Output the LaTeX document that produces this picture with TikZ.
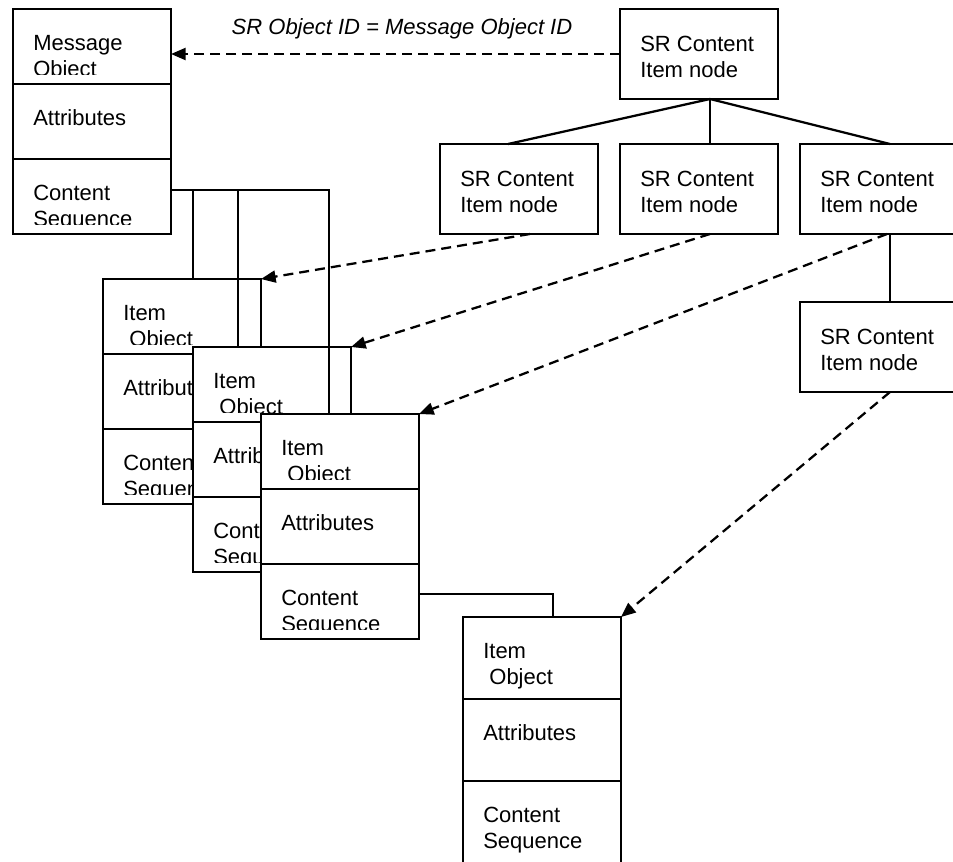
\documentclass[tikz,border=0pt]{standalone}
\usepackage{fontspec}
\setmainfont{Liberation Sans}
\usetikzlibrary{calc,arrows.meta}
\tikzset{
  boxline/.style={line width=1.6pt},
  objbox/.style={draw, line width=1.6pt, fill=white, inner sep=0pt, outer sep=0pt, anchor=north west, minimum width=118.5pt},
  srbox/.style={draw, line width=1.6pt, fill=white, inner sep=0pt, outer sep=0pt, anchor=north west, minimum width=118.5pt, minimum height=67.5pt},
  txt/.style={anchor=base west, inner sep=0pt, font=\fontsize{16.5pt}{19.5pt}\selectfont},
  conn/.style={line width=1.7pt},
  refarrow/.style={line width=1.7pt, dash pattern=on 7.5pt off 4.5pt, -{Triangle[length=11pt,width=9pt]}},
}
\newcommand\objbox[6]{%
  \node[objbox, minimum height=3*#3*0.75pt] (#1) at (#2) {};
  \draw[boxline] ($(#1.north west)+(0,#3)$) -- ($(#1.north east)+(0,#3)$);
  \draw[boxline] ($(#1.north west)+(0,2*#3)$) -- ($(#1.north east)+(0,2*#3)$);
  \begin{scope}
    \clip (#1.north west) rectangle ($(#1.north east)+(0,#3-#4)$);
    \node[txt] (#1-t1) at ($(#1.north west)+(20,41)$) {#5};
    \node[txt] (#1-t2) at ($(#1.north west)+(20,67)$) {#6};
  \end{scope}
  \begin{scope}
    \clip ($(#1.north west)+(0,#3)$) rectangle ($(#1.north east)+(0,2*#3-#4)$);
    \node[txt] (#1-t3) at ($(#1.north west)+(20,#3+41)$) {Attributes};
  \end{scope}
  \begin{scope}
    \clip ($(#1.north west)+(0,2*#3)$) rectangle ($(#1.north east)+(0,3*#3-#4)$);
    \node[txt] (#1-t4) at ($(#1.north west)+(20,2*#3+41)$) {Content};
    \node[txt] (#1-t5) at ($(#1.north west)+(20,2*#3+67)$) {Sequence};
  \end{scope}
}
\newcommand\srnode[2]{%
  \node[srbox] (#1) at (#2) {};
  \node[txt] (#1-t1) at ($(#1.north west)+(20,42)$) {SR Content};
  \node[txt] (#1-t2) at ($(#1.north west)+(20,68)$) {Item node};
}
\begin{document}
\begin{tikzpicture}[x=0.75pt,y=-0.75pt]
\useasboundingbox (0,0) rectangle (953,861);
\clip (0,0) rectangle (953,861);

% message object
\objbox{msg}{13,9}{75}{10}{Message}{Object}

% SR content tree
\srnode{sr0}{620,9}
\srnode{sr1}{440,144}
\srnode{sr2}{620,144}
\srnode{sr3}{800,144}
\srnode{sr4}{800,302}

% item objects
\objbox{it1}{103,279}{75}{10}{Item}{\hspace*{0.278em}Object}
\objbox{it2}{193,347}{75}{10}{Item}{\hspace*{0.278em}Object}
\objbox{it3}{261,414}{75}{10}{Item}{\hspace*{0.278em}Object}
\objbox{it4}{463,617}{82}{3}{Item}{\hspace*{0.278em}Object}

% content sequence connectors
\coordinate (mcs) at ($(msg.north east)+(0,181)$);
\coordinate (d1) at ($(it1.north west)+(90,0)$);
\coordinate (d2) at ($(it2.north west)+(45,0)$);
\coordinate (d3) at ($(it3.north west)+(68,0)$);
\draw[conn] (mcs) -| (d3);
\draw[conn] (mcs -| d1) -- (d1);
\draw[conn] (mcs -| d2) -- (d2);
\coordinate (ics) at ($(it3.north east)+(0,180)$);
\coordinate (d4) at ($(it4.north west)+(90,0)$);
\draw[conn] (ics) -| (d4);

% tree connectors
\coordinate (s0b) at ($(sr0.south west)+(90,0)$);
\draw[conn] (s0b) -- ($(sr1.north west)+(68,0)$);
\draw[conn] (s0b) -- ($(sr2.north west)+(90,0)$);
\draw[conn] (s0b) -- ($(sr3.north west)+(90,0)$);
\draw[conn] ($(sr3.south west)+(90,0)$) -- ($(sr4.north west)+(90,0)$);

% reference arrows
\draw[refarrow] (sr0.west) -- (msg.east |- sr0.west);
\draw[refarrow] ($(sr1.south west)+(90,0)$) -- (it1.north east);
\draw[refarrow] ($(sr2.south west)+(90,0)$) -- (it2.north east);
\draw[refarrow] ($(sr3.south west)+(87,0)$) -- (it3.north east);
\draw[refarrow] ($(sr4.south west)+(90,0)$) -- (it4.north east);

% label
\node[anchor=base, inner sep=0pt, font=\fontsize{16.5pt}{19.5pt}\selectfont\itshape] (lbl) at (402,34) {SR Object ID = Message Object ID};
\end{tikzpicture}
\end{document}
